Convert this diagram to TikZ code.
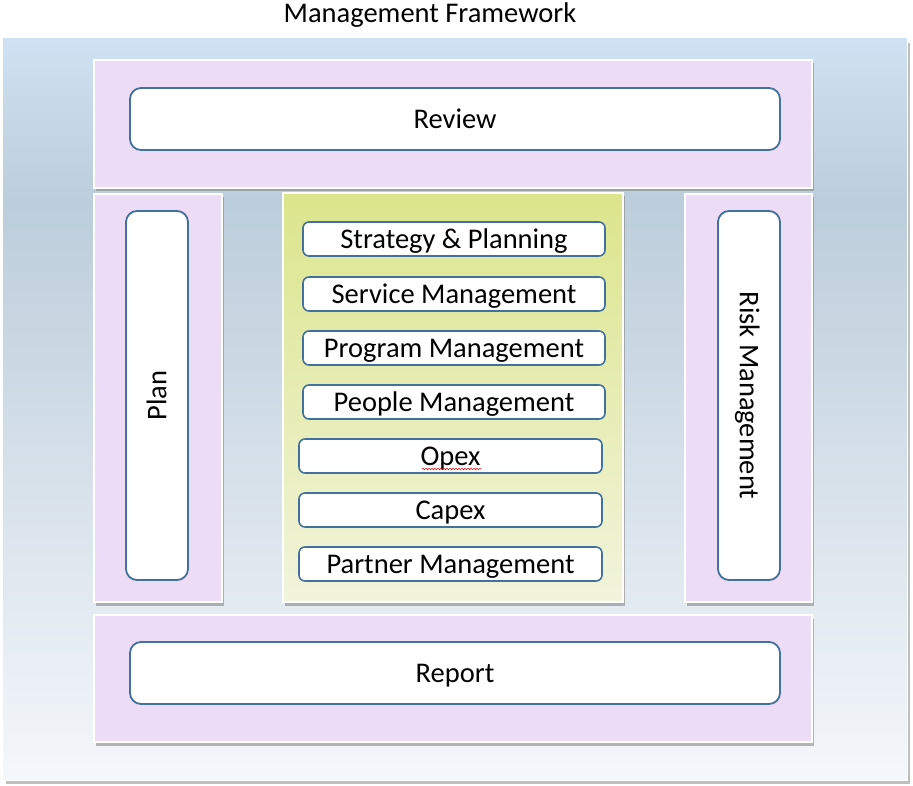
\documentclass[tikz,border=0pt]{standalone}
\usepackage{fontspec}
\setmainfont{Carlito}
\usetikzlibrary{shadows,decorations.pathmorphing}
\definecolor{bgtop}{HTML}{CFE2F3}
\definecolor{bgmid}{HTML}{BCCDDB}
\definecolor{bgbot}{HTML}{F4F7FB}
\definecolor{lav}{HTML}{EDDCF5}
\definecolor{edgeblue}{HTML}{41719C}
\definecolor{greentop}{HTML}{DCE58B}
\definecolor{greenbot}{HTML}{F1F4DC}
\pgfdeclareverticalshading{bgshade}{100bp}{color(0bp)=(bgbot); color(25bp)=(bgbot); color(64bp)=(bgmid); color(75bp)=(bgtop); color(100bp)=(bgtop)}
\tikzset{
  txt/.style={font=\fontsize{28.5}{32}\selectfont},
  boxtxt/.style={txt, text height=18.5pt, text depth=0pt},
  panel/.style={draw=white, line width=2.5pt, fill=lav, drop shadow={shadow xshift=2pt, shadow yshift=-3.5pt, opacity=0.55}, inner sep=0pt, outer sep=0pt},
  greenpanel/.style={draw=white, line width=2pt, top color=greentop, bottom color=greenbot, drop shadow={shadow xshift=2pt, shadow yshift=-3.5pt, opacity=0.55}, inner sep=0pt, outer sep=0pt},
  bigbox/.style={draw=edgeblue, line width=1.8pt, fill=white, rounded corners=11pt, inner sep=0pt, boxtxt},
  itembox/.style={draw=edgeblue, line width=1.6pt, fill=white, rounded corners=6pt, inner sep=0pt, minimum width=302, minimum height=34, boxtxt},
}
\begin{document}
\begin{tikzpicture}[x=1pt,y=-1pt]
\useasboundingbox (0,0) rectangle (913,786);
% background
\fill[black, opacity=0.25] (6,43) rectangle (910,784);
\shade[shading=bgshade] (2,38) rectangle (907,780);
\draw[white, line width=1pt] (2,38) rectangle (907,780);
\node[txt] (title) at (430,15) {Management Framework};
% panels
\node[panel, minimum width=718, minimum height=128] (reviewp) at (453,124) {};
\node[panel, minimum width=128, minimum height=408] (planp) at (158,398) {};
\node[greenpanel, minimum width=340, minimum height=409] (centerp) at (453,397.5) {};
\node[panel, minimum width=127, minimum height=408] (riskp) at (748.5,398) {};
\node[panel, minimum width=718, minimum height=127] (reportp) at (453,678.5) {};
% inner boxes
\node[bigbox, minimum width=650, minimum height=62] (review) at (455,119) {Review};
\node[bigbox, minimum width=62, minimum height=369] (plan) at (157,395.5) {};
\node[boxtxt, rotate=90] (plantext) at (plan.center) {Plan};
\node[bigbox, minimum width=62, minimum height=369] (risk) at (749,395.5) {};
\node[boxtxt, rotate=-90] (risktext) at (risk.center) {Risk Management};
\node[bigbox, minimum width=650, minimum height=62] (report) at (455,673) {Report};
% items
\node[itembox] (strategy) at (454,239) {Strategy \& Planning};
\node[itembox] (service) at (454,294) {Service Management};
\node[itembox] (program) at (454,348) {Program Management};
\node[itembox] (people) at (454,402) {People Management};
\node[itembox, minimum width=303] (opex) at (450.5,456) {Opex};
\node[itembox, minimum width=303] (capex) at (450.5,510) {Capex};
\node[itembox, minimum width=303] (partner) at (450.5,564) {Partner Management};
\coordinate (sqa) at (422,469);
\coordinate (sqb) at (481,469);
\draw[red, line width=0.6pt, decorate, decoration={snake, amplitude=0.7pt, segment length=3pt}] (sqa) -- (sqb);
\end{tikzpicture}
\end{document}
